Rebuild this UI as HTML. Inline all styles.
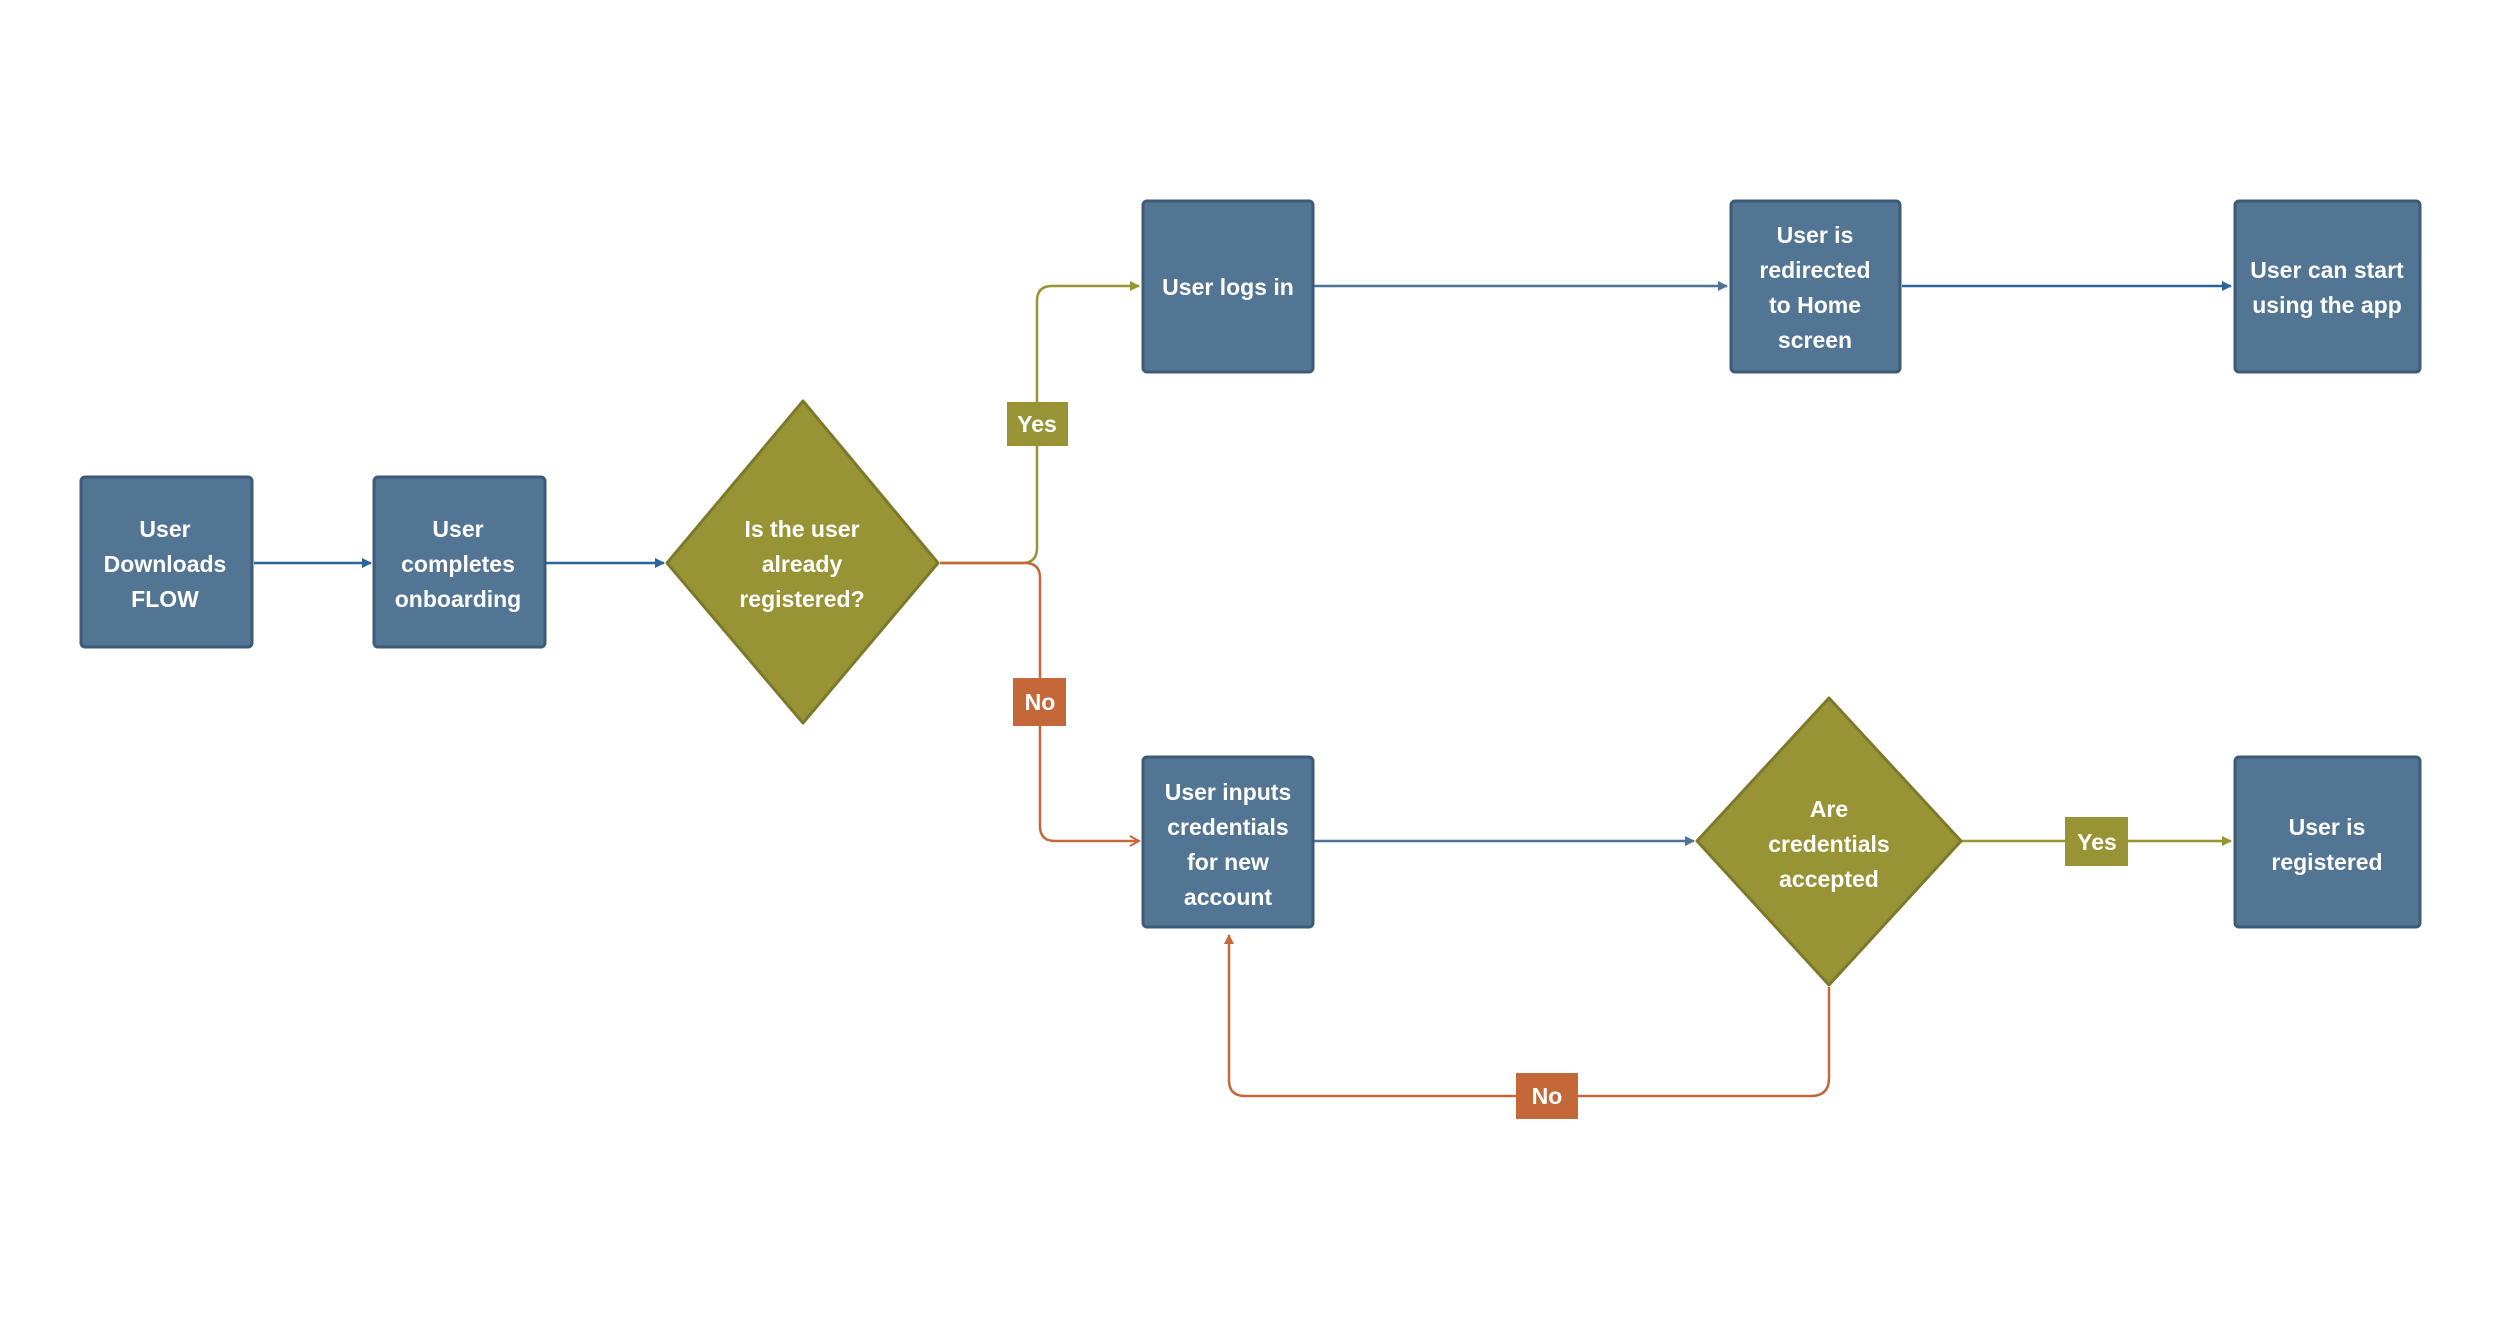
<!DOCTYPE html>
<html><head><meta charset="utf-8"><style>
body{margin:0;background:#fff;width:2500px;height:1319px;overflow:hidden}
svg text{font-family:"Liberation Sans",sans-serif;font-weight:bold;font-size:23px;fill:#fff;text-anchor:middle}
</style></head><body>
<svg width="2500" height="1319" viewBox="0 0 2500 1319" xmlns="http://www.w3.org/2000/svg">
<defs>
<marker id="ab" markerWidth="10" markerHeight="10" refX="9" refY="5" orient="auto" markerUnits="userSpaceOnUse"><path d="M0,0 L10,5 L0,10 z" fill="#2a6499"/></marker>
<marker id="as" markerWidth="10" markerHeight="10" refX="9" refY="5" orient="auto" markerUnits="userSpaceOnUse"><path d="M0,0 L10,5 L0,10 z" fill="#4f7394"/></marker>
<marker id="ay" markerWidth="10" markerHeight="10" refX="9" refY="5" orient="auto" markerUnits="userSpaceOnUse"><path d="M0,0 L10,5 L0,10 z" fill="#989436"/></marker>
<marker id="ao" markerWidth="12" markerHeight="12" refX="10" refY="6" orient="auto" markerUnits="userSpaceOnUse"><path d="M1,1 L10,6 L1,11" fill="none" stroke="#c4683a" stroke-width="2"/></marker>
<marker id="aof" markerWidth="10" markerHeight="10" refX="9" refY="5" orient="auto" markerUnits="userSpaceOnUse"><path d="M0,0 L10,5 L0,10 z" fill="#c4683a"/></marker>
</defs>
<g fill="none" stroke-width="2.5">
<line x1="254" y1="563" x2="371" y2="563" stroke="#2a6499" marker-end="url(#ab)"/>
<line x1="546" y1="563" x2="664" y2="563" stroke="#2a6499" marker-end="url(#ab)"/>
<path d="M940,563 H1022 Q1037,563 1037,548 V301 Q1037,286 1052,286 H1139" stroke="#989436" marker-end="url(#ay)"/>
<path d="M940,563 H1025 Q1040,563 1040,578 V826 Q1040,841 1055,841 H1139" stroke="#c4683a" marker-end="url(#ao)"/>
<line x1="1314" y1="286" x2="1727" y2="286" stroke="#4f7394" marker-end="url(#as)"/>
<line x1="1902" y1="286" x2="2231" y2="286" stroke="#2a6499" marker-end="url(#ab)"/>
<line x1="1314" y1="841" x2="1694" y2="841" stroke="#4f7394" marker-end="url(#as)"/>
<line x1="1962" y1="841" x2="2231" y2="841" stroke="#989436" marker-end="url(#ay)"/>
<path d="M1829,987 V1078 Q1829,1096 1811,1096 H1245 Q1229,1096 1229,1080 V935" stroke="#c4683a" marker-end="url(#aof)"/>
</g>
<g fill="#527594" stroke="#3f5a78" stroke-width="3">
<rect x="81" y="477" width="171" height="170" rx="4"/>
<rect x="374" y="477" width="171" height="170" rx="4"/>
<rect x="1143" y="201" width="170" height="171" rx="4"/>
<rect x="1731" y="201" width="169" height="171" rx="4"/>
<rect x="2235" y="201" width="185" height="171" rx="4"/>
<rect x="1143" y="757" width="170" height="170" rx="4"/>
<rect x="2235" y="757" width="185" height="170" rx="4"/>
</g>
<g fill="#989436" stroke="#7a7a2a" stroke-width="3" stroke-linejoin="round">
<polygon points="803,401 938,563 803,723 667,563"/>
<polygon points="1829,698 1961,841 1829,985 1697,841"/>
</g>
<rect x="1007" y="402" width="61" height="44" fill="#989436"/>
<rect x="1013" y="678" width="53" height="48" fill="#c4683a"/>
<rect x="2065" y="817" width="63" height="49" fill="#989436"/>
<rect x="1516" y="1073" width="62" height="46" fill="#c4683a"/>
<text x="1037" y="432">Yes</text>
<text x="1040" y="710">No</text>
<text x="2097" y="850">Yes</text>
<text x="1547" y="1104">No</text>
<text x="165" y="537">User</text><text x="165" y="572">Downloads</text><text x="165" y="607">FLOW</text>
<text x="458" y="537">User</text><text x="458" y="572">completes</text><text x="458" y="607">onboarding</text>
<text x="802" y="537">Is the user</text><text x="802" y="572">already</text><text x="802" y="607">registered?</text>
<text x="1228" y="295">User logs in</text>
<text x="1815" y="243">User is</text><text x="1815" y="278">redirected</text><text x="1815" y="313">to Home</text><text x="1815" y="348">screen</text>
<text x="2327" y="278">User can start</text><text x="2327" y="313">using the app</text>
<text x="1228" y="800">User inputs</text><text x="1228" y="835">credentials</text><text x="1228" y="870">for new</text><text x="1228" y="905">account</text>
<text x="1829" y="817">Are</text><text x="1829" y="852">credentials</text><text x="1829" y="887">accepted</text>
<text x="2327" y="835">User is</text><text x="2327" y="870">registered</text>
</svg>
</body></html>
